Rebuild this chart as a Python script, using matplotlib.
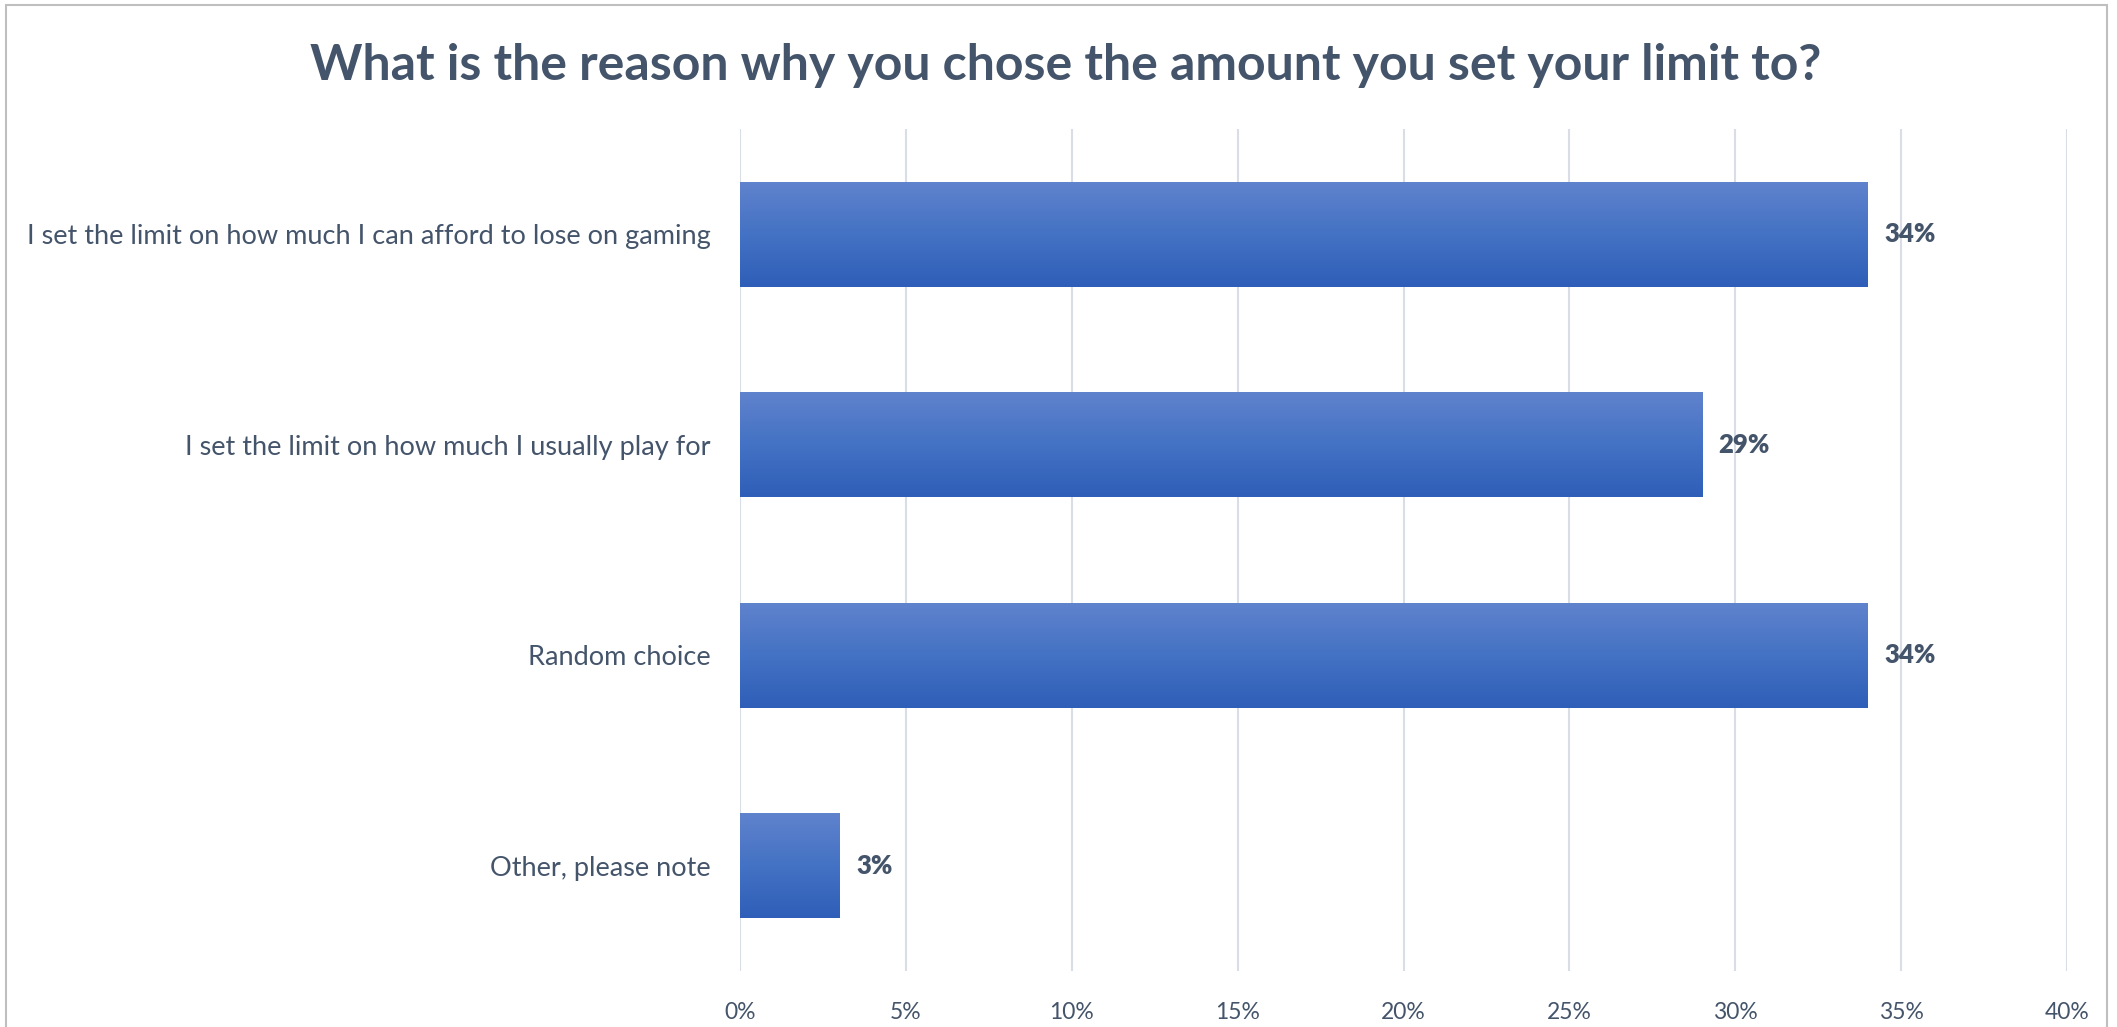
import matplotlib
matplotlib.use("Agg")
import matplotlib.pyplot as plt
import numpy as np
from matplotlib.colors import LinearSegmentedColormap
from matplotlib.patches import Rectangle
from matplotlib.ticker import PercentFormatter

categories = [
    "I set the limit on how much I can afford to lose on gaming",
    "I set the limit on how much I usually play for",
    "Random choice",
    "Other, please note",
]
values = [34, 29, 34, 3]
xticks = [0, 5, 10, 15, 20, 25, 30, 35, 40]
title = "What is the reason why you chose the amount you set your limit to?"

W, H = 2117, 1027
DPI = 100
TEXT = "#44546A"
FONT = "Lato"
plt.rcParams["font.family"] = [FONT, "DejaVu Sans"]

fig = plt.figure(figsize=(W / DPI, H / DPI), dpi=DPI)
fig.patch.set_facecolor("white")

# chart border (cut at the bottom)
fig.add_artist(Rectangle((6 / W, -0.05), (2107 - 6) / W, (1 - 5 / H) + 0.05,
                         transform=fig.transFigure, fill=False,
                         edgecolor="#BFBFBF", linewidth=1.5))

left, right, top, bottom = 740, 2067, 129, 971
ax = fig.add_axes([left / W, 1 - bottom / H, (right - left) / W, (bottom - top) / H])

y = np.arange(len(categories))
bh = 0.5
bars = ax.barh(y, values, height=bh, color="#4472C4", linewidth=0, zorder=2)

cmap = LinearSegmentedColormap.from_list("g", ["#6083CD", "#4472C4", "#2E5EB8"])
grad = np.linspace(0, 1, 256).reshape(-1, 1)
for b, yc, v in zip(bars, y, values):
    im = ax.imshow(grad, cmap=cmap, aspect="auto", origin="upper",
                   extent=(0, v, yc + bh / 2, yc - bh / 2), zorder=3)
    im.set_clip_path(b)
    ax.text(v + 0.5, yc, f"{v}%", va="center", ha="left", fontsize=18.5,
            fontweight="heavy", color=TEXT)

ax.set_xlim(0, 40)
ax.set_ylim(len(categories) - 0.5, -0.5)
ax.set_xticks(xticks)
ax.xaxis.set_major_formatter(PercentFormatter(decimals=0))
ax.set_yticks(y)
ax.set_yticklabels(categories)
ax.tick_params(axis="x", length=0, pad=22, labelsize=16.5, labelcolor=TEXT)
ax.tick_params(axis="y", length=0, pad=21, labelsize=19.5, labelcolor=TEXT)
ax.grid(axis="x", color="#D9DEE6", linewidth=1.5, zorder=0)
ax.set_axisbelow(True)
for s in ax.spines.values():
    s.set_visible(False)

fig.text(1066 / W, 1 - 65 / H, title, ha="center", va="center", fontsize=36,
         fontweight="bold", color=TEXT)

fig.savefig("out.png", dpi=DPI)
